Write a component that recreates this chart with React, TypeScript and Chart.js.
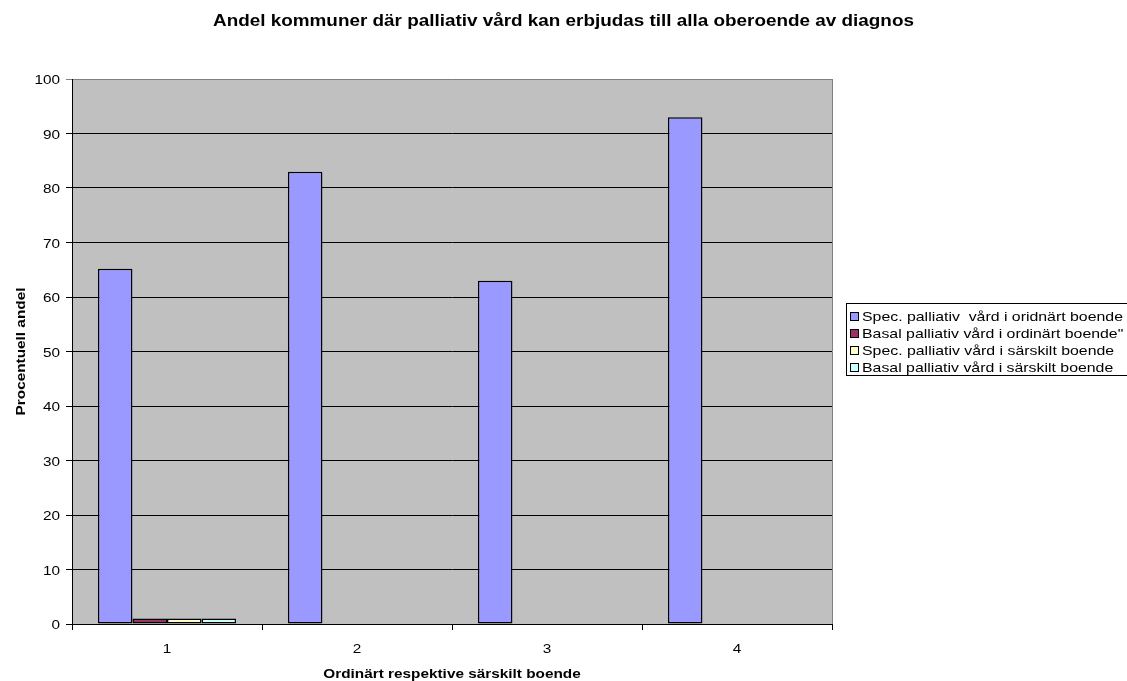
import React, { useEffect, useRef } from "react";
import { Chart, registerables } from "chart.js";

Chart.register(...registerables);

// Chart content
const chartTitle = "Andel kommuner där palliativ vård kan erbjudas till alla oberoende av diagnos";
const xAxisTitle = "Ordinärt respektive särskilt boende";
const yAxisTitle = "Procentuell andel";
const categories = ["1", "2", "3", "4"];

const seriesNames = [
  "Spec. palliativ  vård i oridnärt boende",
  "Basal palliativ vård i ordinärt boende\"",
  "Spec. palliativ vård i särskilt boende",
  "Basal palliativ vård i särskilt boende",
];
const specOrdinart = [65.2, 83, 63, 93];
const basalOrdinart = [1, 0, 0, 0];
const specSarskilt = [1, 0, 0, 0];
const basalSarskilt = [1, 0, 0, 0];
const seriesColors = ["#9999FF", "#993366", "#FFFFCC", "#CCFFFF"];

const yMin = 0;
const yMax = 100;
const yStep = 10;

const FONT = "'Liberation Sans', Arial, sans-serif";
const STRETCH = 1.18;
const LEGEND_STRETCH = 1.22;

function drawText(
  ctx: CanvasRenderingContext2D,
  text: string,
  x: number,
  y: number,
  font: string,
  align: CanvasTextAlign,
  sx: number,
  rotation = 0
) {
  ctx.save();
  ctx.translate(x, y);
  if (rotation) ctx.rotate(rotation);
  ctx.scale(sx, 1);
  ctx.font = font;
  ctx.textAlign = align;
  ctx.textBaseline = "alphabetic";
  ctx.fillStyle = "#000";
  ctx.fillText(text, 0, 0);
  ctx.restore();
}

const plotBackground = {
  id: "plotBackground",
  beforeDraw(chart: any) {
    const { ctx, chartArea } = chart;
    ctx.save();
    ctx.fillStyle = "#C0C0C0";
    ctx.fillRect(chartArea.left, chartArea.top, chartArea.right - chartArea.left, chartArea.bottom - chartArea.top);
    ctx.restore();
  },
};

const textAndLegend = {
  id: "textAndLegend",
  afterDraw(chart: any) {
    const { ctx, chartArea, width } = chart;
    const xs = chart.scales.x;
    const ys = chart.scales.y;

    // right frame edge of the plot
    ctx.save();
    ctx.strokeStyle = "#808080";
    ctx.lineWidth = 1;
    ctx.beginPath();
    ctx.moveTo(Math.round(chartArea.right) + 0.5, chartArea.top);
    ctx.lineTo(Math.round(chartArea.right) + 0.5, chartArea.bottom);
    ctx.stroke();
    ctx.restore();

    // title
    drawText(ctx, chartTitle, width / 2, 26, `bold 16px ${FONT}`, "center", STRETCH);

    // y tick labels
    ys.ticks.forEach((t: any) => {
      const py = ys.getPixelForValue(t.value);
      drawText(ctx, String(t.value), chartArea.left - 12, py + 5, `13px ${FONT}`, "right", STRETCH);
    });

    // x tick labels
    categories.forEach((c, i) => {
      const px = xs.getPixelForValue(i);
      drawText(ctx, c, px, chartArea.bottom + 28.5, `13px ${FONT}`, "center", STRETCH);
    });

    // axis titles
    drawText(ctx, xAxisTitle, (chartArea.left + chartArea.right) / 2, 678, `bold 13px ${FONT}`, "center", STRETCH);
    drawText(ctx, yAxisTitle, 25, (chartArea.top + chartArea.bottom) / 2, `bold 13px ${FONT}`, "center", STRETCH, -Math.PI / 2);

    // legend
    const lx = 846.5;
    const ly = 303.5;
    ctx.save();
    ctx.fillStyle = "#FFFFFF";
    ctx.fillRect(lx, ly, 300, 72);
    ctx.strokeStyle = "#000";
    ctx.lineWidth = 1;
    ctx.strokeRect(lx, ly, 300, 72);
    seriesNames.forEach((_name, i) => {
      const base = 321 + i * 17;
      ctx.fillStyle = seriesColors[i];
      ctx.fillRect(850.5, base - 8.5, 8, 8);
      ctx.strokeStyle = "#000";
      ctx.strokeRect(850.5, base - 8.5, 8, 8);
    });
    ctx.restore();
    seriesNames.forEach((name, i) => {
      const base = 321 + i * 17;
      drawText(ctx, name, 862, base, `13px ${FONT}`, "left", LEGEND_STRETCH);
    });
  },
};

export default function App() {
  const canvasRef = useRef<HTMLCanvasElement | null>(null);

  useEffect(() => {
    if (!canvasRef.current) return;
    const seriesValues = [specOrdinart, basalOrdinart, specSarskilt, basalSarskilt];
    const chart = new Chart(canvasRef.current, {
      type: "bar",
      data: {
        labels: categories,
        datasets: seriesValues.map((vals, i) => ({
          label: seriesNames[i],
          data: vals,
          backgroundColor: seriesColors[i],
          borderColor: "#000000",
          borderWidth: 1.5,
          borderSkipped: false,
          categoryPercentage: 4 / 5.5,
          barPercentage: 1,
        })),
      },
      options: {
        responsive: false,
        animation: false,
        devicePixelRatio: 1,
        layout: { padding: { top: 79, right: 295, left: 0, bottom: 0 } },
        plugins: {
          legend: { display: false },
          title: { display: false },
          tooltip: { enabled: false },
        },
        scales: {
          x: {
            grid: { offset: true, drawOnChartArea: false, drawTicks: true, tickLength: 6, color: "#000" },
            border: { color: "#000" },
            ticks: { display: false },
            afterFit(scale: any) {
              scale.height = 57;
            },
          },
          y: {
            min: yMin,
            max: yMax,
            ticks: { stepSize: yStep, display: false },
            grid: {
              drawTicks: true,
              tickLength: 6,
              color: (c: any) => (c.tick && c.tick.value === yMax ? "#808080" : "#000"),
            },
            border: { color: "#000" },
            afterFit(scale: any) {
              scale.width = 72;
            },
          },
        },
      },
      plugins: [plotBackground, textAndLegend],
    });
    return () => chart.destroy();
  }, []);

  return (
    <div style={{ position: "fixed", left: 0, top: 0, width: 1127, height: 681, background: "#fff" }}>
      <canvas ref={canvasRef} width={1127} height={681} style={{ display: "block" }} />
    </div>
  );
}
